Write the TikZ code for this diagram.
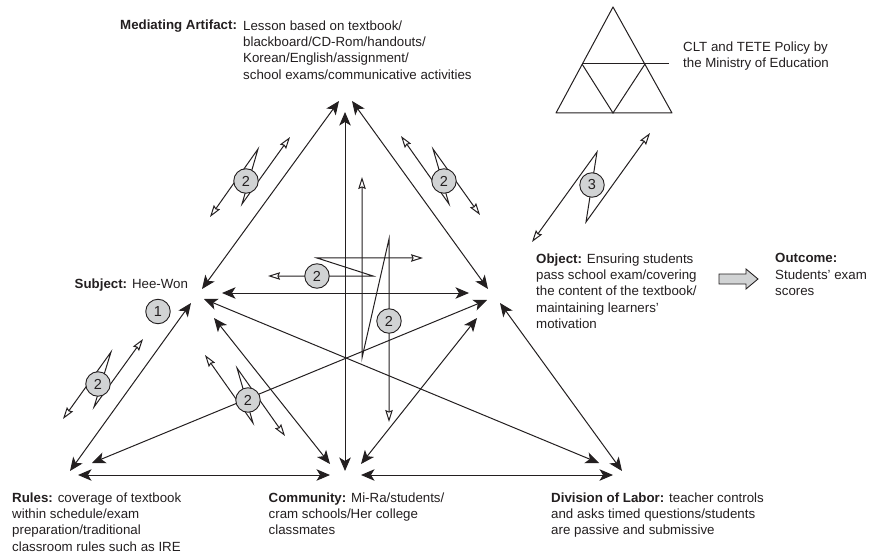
\documentclass[tikz,border=0pt]{standalone}
\usepackage{fontspec}
\setmainfont{Liberation Sans}
\usetikzlibrary{arrows.meta}
\definecolor{ink}{HTML}{231F20}
\definecolor{disc}{HTML}{D1D3D4}
\tikzset{
  lbl/.style={anchor=north west,inner sep=0pt,align=left,text=ink,font=\fontsize{13.3}{16.3}\selectfont},
  lblone/.style={anchor=base west,inner sep=0pt,text=ink,font=\fontsize{13.3}{16.3}\selectfont},
  solidarrow/.style={draw=ink,line width=1pt,{Stealth[length=13.5pt,width=11.5pt,inset=3.5pt]}-{Stealth[length=13.5pt,width=11.5pt,inset=3.5pt]}},
  openarrow/.style={draw=ink,line width=1pt,line join=miter,miter limit=20,{Stealth[open,fill=white,length=12pt,width=7.5pt,inset=1.5pt]}-{Stealth[open,fill=white,length=12pt,width=7.5pt,inset=1.5pt]}},
  numdisc/.style={circle,draw=ink,line width=0.9pt,fill=disc,minimum size=24.5pt,inner sep=0pt,text=ink,font=\fontsize{14.5}{16}\selectfont},
  plain/.style={draw=ink,line width=1pt}
}
\begin{document}
\begin{tikzpicture}[x=1pt,y=-1pt]
\useasboundingbox (0,0) rectangle (872,553);
% corner ends of the solid arrows
\coordinate (apexL) at (339,101); \coordinate (apexC) at (345,112); \coordinate (apexR) at (352,101);
\coordinate (subA) at (202,289); \coordinate (subO) at (222,293); \coordinate (subD) at (204,299);
\coordinate (subR) at (191,303); \coordinate (subC) at (214,318);
\coordinate (objA) at (488,289); \coordinate (objS) at (469,293); \coordinate (objR) at (487,300);
\coordinate (objC) at (477,318); \coordinate (objD) at (500,303);
\coordinate (rulS) at (70,471); \coordinate (rulO) at (92,463); \coordinate (rulC) at (78,475);
\coordinate (comR) at (330,475); \coordinate (comS) at (330,464); \coordinate (comA) at (345,471);
\coordinate (comO) at (361,464); \coordinate (comD) at (361,475);
\coordinate (divC) at (613,475); \coordinate (divS) at (599,463); \coordinate (divO) at (622,471);
% solid arrows
\draw[solidarrow] (apexL) -- (subA);
\draw[solidarrow] (apexR) -- (objA);
\draw[solidarrow] (apexC) -- (comA);
\draw[solidarrow] (subO) -- (objS);
\draw[solidarrow] (subD) -- (divS);
\draw[solidarrow] (subR) -- (rulS);
\draw[solidarrow] (subC) -- (comS);
\draw[solidarrow] (objR) -- (rulO);
\draw[solidarrow] (objC) -- (comO);
\draw[solidarrow] (objD) -- (divO);
\draw[solidarrow] (rulC) -- (comR);
\draw[solidarrow] (comD) -- (divC);
% open zigzag arrows
\coordinate (a1) at (210,217); \coordinate (a2) at (258,149); \coordinate (a3) at (242,204); \coordinate (a4) at (290,137);
\draw[openarrow] (a1) -- (a2) -- (a3) -- (a4);
\coordinate (b1) at (401,136); \coordinate (b2) at (449,204); \coordinate (b3) at (433,149); \coordinate (b4) at (480,215);
\draw[openarrow] (b1) -- (b2) -- (b3) -- (b4);
\coordinate (c1) at (423,258); \coordinate (c2) at (317,258); \coordinate (c3) at (373,276); \coordinate (c4) at (268,276);
\draw[openarrow] (c1) -- (c2) -- (c3) -- (c4);
\coordinate (d1) at (362,177); \coordinate (d2) at (362,358); \coordinate (d3) at (389,239); \coordinate (d4) at (389,422);
\draw[openarrow] (d1) -- (d2) -- (d3) -- (d4);
\coordinate (e1) at (63,419); \coordinate (e2) at (111,352); \coordinate (e3) at (94,407); \coordinate (e4) at (143,339);
\draw[openarrow] (e1) -- (e2) -- (e3) -- (e4);
\coordinate (f1) at (205,355); \coordinate (f2) at (253,423); \coordinate (f3) at (237,368); \coordinate (f4) at (285,436);
\draw[openarrow] (f1) -- (f2) -- (f3) -- (f4);
\coordinate (g1) at (532,242); \coordinate (g2) at (597,152); \coordinate (g3) at (586,222); \coordinate (g4) at (650,133);
\draw[openarrow] (g1) -- (g2) -- (g3) -- (g4);
% numbered discs
\node[numdisc] (n1) at (158,311.5) {1};
\node[numdisc] (n2a) at (246,181) {2};
\node[numdisc] (n2b) at (444,181) {2};
\node[numdisc] (n2c) at (317,276) {2};
\node[numdisc] (n2d) at (389,321) {2};
\node[numdisc] (n2e) at (98,384) {2};
\node[numdisc] (n2f) at (248,400) {2};
\node[numdisc] (n3) at (592,185) {3};
% small triangle
\coordinate (tA) at (613,7); \coordinate (tL) at (556,113); \coordinate (tR) at (672,113); \coordinate (tB) at (613,113);
\coordinate (tML) at (582,64); \coordinate (tMR) at (645,64); \coordinate (tEnd) at (669,64);
\draw[plain,line join=round] (tA) -- (tL) -- (tR) -- cycle;
\draw[plain] (tML) -- (tEnd);
\draw[plain] (tML) -- (tB) -- (tMR);
% outcome arrow
\draw[draw=ink,line width=0.85pt,fill=disc] (719,274) -- (746,274) -- (746,269) -- (758,279) -- (746,289) -- (746,284) -- (719,284) -- cycle;
% texts
\node[lblone] (artT) at (120,30) {\bfseries Mediating Artifact:};
\node[lbl] (artB) at (243,20.3) {Lesson based on textbook/\\blackboard/CD-Rom/handouts/\\Korean/English/assignment/\\school exams/communicative activities};
\node[lblone] (subj) at (74.5,288) {\textbf{Subject:} Hee-Won};
\node[lbl] (clt) at (683,41.3) {CLT and TETE Policy by\\the Ministry of Education};
\node[lbl] (obj) at (536,253.3) {\textbf{Object:} Ensuring students\\pass school exam/covering\\the content of the textbook/\\maintaining learners’\\motivation};
\node[lbl] (outc) at (775,253.3) {\textbf{Outcome:}\\Students’ exam\\scores};
\node[lbl] (rules) at (12,492.3) {\textbf{Rules:} coverage of textbook\\within schedule/exam\\preparation/traditional\\classroom rules such as IRE};
\node[lbl] (comm) at (268.5,492.3) {\textbf{Community:} Mi-Ra/students/\\cram schools/Her college\\classmates};
\node[lbl] (div) at (551,492.3) {\textbf{Division of Labor:} teacher controls\\and asks timed questions/students\\are passive and submissive};
\end{tikzpicture}
\end{document}
